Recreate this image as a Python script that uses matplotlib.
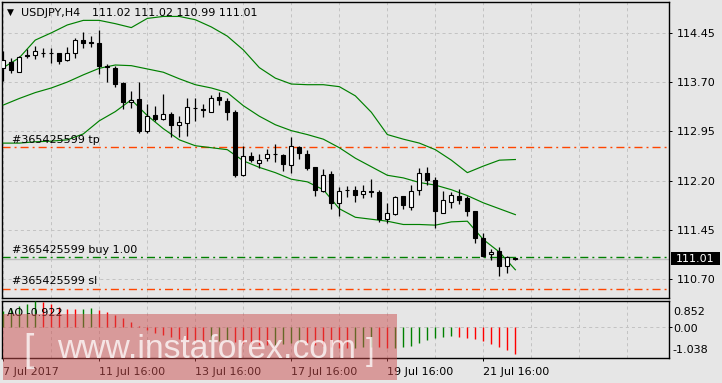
import matplotlib
matplotlib.use('Agg')
import matplotlib.pyplot as plt
from matplotlib.patches import Rectangle
import numpy as np

plt.rcParams['lines.scale_dashes'] = False
plt.rcParams['font.family'] = ['DejaVu Sans']

# ---------------- data ----------------
symbol_title = "USDJPY,H4"
title_prices = "111.02 111.02 110.99 111.01"

opens = [113.91, 114.01, 113.86, 114.12, 114.11, 114.15, 114.15, 114.14, 114.03, 114.14,
         114.34, 114.31, 114.29, 113.95, 113.92, 113.69, 113.39, 113.44, 112.95, 113.20,
         113.14, 113.22, 113.05, 113.07, 113.31, 113.29, 113.25, 113.47, 113.41, 113.25,
         112.28, 112.58, 112.46, 112.54, 112.61, 112.59, 112.43, 112.71, 112.61, 112.40,
         112.04, 112.30, 111.85, 112.06, 112.06, 111.99, 112.03, 112.03, 111.61, 111.69,
         111.97, 111.80, 112.06, 112.31, 112.21, 111.71, 111.88, 111.97, 111.94, 111.74,
         111.33, 111.08, 111.13, 110.89, 111.02]
highs = [114.18, 114.06, 114.09, 114.20, 114.25, 114.22, 114.22, 114.15, 114.24, 114.37,
         114.46, 114.40, 114.49, 113.98, 113.95, 113.70, 113.57, 113.70, 113.37, 113.33,
         113.52, 113.24, 113.19, 113.46, 113.45, 113.37, 113.50, 113.55, 113.45, 113.28,
         112.73, 112.64, 112.60, 112.68, 112.76, 112.60, 112.86, 112.73, 112.67, 112.41,
         112.37, 112.35, 112.10, 112.11, 112.12, 112.13, 112.23, 112.06, 111.85, 111.96,
         111.97, 112.13, 112.39, 112.41, 112.25, 112.04, 112.03, 112.07, 111.97, 111.74,
         111.40, 111.16, 111.19, 111.05, 111.02]
lows = [113.72, 113.84, 113.85, 114.07, 114.05, 114.08, 113.99, 113.98, 114.02, 114.06,
        114.22, 114.23, 113.82, 113.70, 113.63, 113.29, 113.31, 112.92, 112.93, 113.11,
        113.12, 112.87, 112.87, 112.88, 113.11, 113.17, 113.24, 113.35, 113.12, 112.25,
        112.27, 112.48, 112.39, 112.50, 112.48, 112.34, 112.31, 112.53, 112.36, 111.97,
        112.02, 111.76, 111.66, 111.95, 111.88, 111.94, 111.95, 111.57, 111.55, 111.68,
        111.77, 111.75, 111.98, 112.13, 111.47, 111.70, 111.78, 111.84, 111.66, 111.25,
        111.04, 110.99, 110.75, 110.79, 110.99]
closes = [114.03, 113.89, 114.08, 114.10, 114.17, 114.14, 114.14, 114.02, 114.15, 114.34,
          114.30, 114.30, 113.94, 113.93, 113.67, 113.39, 113.43, 112.96, 113.18, 113.14,
          113.21, 113.04, 113.09, 113.32, 113.30, 113.27, 113.45, 113.42, 113.25, 112.29,
          112.57, 112.52, 112.52, 112.60, 112.60, 112.45, 112.73, 112.62, 112.39, 112.05,
          112.28, 111.85, 112.04, 112.05, 111.98, 112.04, 112.03, 111.61, 111.70, 111.95,
          111.82, 112.04, 112.32, 112.21, 111.73, 111.90, 111.98, 111.90, 111.73, 111.32,
          111.05, 111.11, 110.90, 111.04, 111.01]

# Bollinger bands read every second bar
band_bars = list(range(0, 65, 2))
bb_upper = [113.92, 114.07, 114.34, 114.45, 114.57, 114.64, 114.64, 114.59, 114.53, 114.67,
            114.70, 114.70, 114.65, 114.54, 114.40, 114.19, 113.92, 113.76, 113.67, 113.66,
            113.66, 113.63, 113.49, 113.24, 112.90, 112.83, 112.77, 112.67, 112.51, 112.32,
            112.42, 112.51, 112.52]
bb_middle = [113.35, 113.45, 113.54, 113.61, 113.70, 113.81, 113.91, 113.96, 113.95, 113.90,
             113.85, 113.75, 113.66, 113.61, 113.54, 113.34, 113.18, 113.05, 112.96, 112.90,
             112.83, 112.70, 112.54, 112.41, 112.28, 112.24, 112.17, 112.13, 112.06, 111.97,
             111.86, 111.77, 111.68]
bb_lower = [112.77, 112.77, 112.79, 112.80, 112.82, 112.91, 113.11, 113.25, 113.43, 113.19,
            112.99, 112.82, 112.73, 112.70, 112.67, 112.50, 112.40, 112.32, 112.22, 112.18,
            112.06, 111.77, 111.64, 111.61, 111.58, 111.53, 111.53, 111.52, 111.57, 111.58,
            111.30, 111.11, 110.84]

# Awesome oscillator
ao_prev = 0.45
ao_values = [0.52, 0.62, 0.68, 0.74, 0.85, 0.82, 0.74, 0.66, 0.60, 0.58,
             0.60, 0.62, 0.55, 0.50, 0.40, 0.28, 0.15, 0.03, -0.10, -0.20,
             -0.28, -0.35, -0.42, -0.45, -0.48, -0.50, -0.49, -0.47, -0.44, -0.50,
             -0.55, -0.58, -0.60, -0.62, -0.60, -0.58, -0.55, -0.52, -0.54, -0.60,
             -0.64, -0.68, -0.70, -0.72, -0.70, -0.68, -0.66, -0.67, -0.70, -0.69,
             -0.68, -0.65, -0.54, -0.43, -0.37, -0.35, -0.32, -0.33, -0.36, -0.40,
             -0.47, -0.57, -0.68, -0.78, -0.92]
ao_label = "AO -0.922"
ao_max, ao_min = 0.852, -1.038

# Order lines
order_id = "#365425599"
tp_price = 112.71
buy_price = 111.03
sl_price = 110.55
bid_price = 111.01

price_ticks = [110.70, 111.45, 112.20, 112.95, 113.70, 114.45]
time_tick_bars = [0, 12, 24, 36, 48, 60]
time_tick_labels = ["7 Jul 2017", "11 Jul 16:00", "13 Jul 16:00", "17 Jul 16:00",
                    "19 Jul 16:00", "21 Jul 16:00"]

# ---------------- layout ----------------
W, H = 722, 383
BG = '#e6e6e6'
GRID = '#c3c3c3'
GREEN = '#008000'
ORANGE = '#ff4500'
px = 0.72  # one pixel in points

fig = plt.figure(figsize=(W / 100, H / 100), dpi=100)
fig.patch.set_facecolor(BG)


def fx(v):
    return v / W


def fy(v):
    return 1 - v / H


L, R = 2, 669
ax = fig.add_axes([fx(L), fy(298), fx(R) - fx(L), fy(2) - fy(298)])
ao = fig.add_axes([fx(L), fy(358), fx(R) - fx(L), fy(301) - fy(358)])

xmin, xmax = -0.16, 83.2
for a in (ax, ao):
    a.set_facecolor(BG)
    a.set_xlim(xmin, xmax)
    for s in a.spines.values():
        s.set_color('black')
        s.set_linewidth(1.0)

grid_dash = (0, (2.2, 2.2))

# main panel
ax.set_ylim(110.41, 114.92)
ax.set_xticks(range(0, 84, 6))
ax.tick_params(axis='x', length=0, labelbottom=False)
ax.yaxis.tick_right()
ax.set_yticks(price_ticks)
ax.set_yticklabels([f"{v:.2f}" for v in price_ticks])
ax.tick_params(axis='y', length=3 * px, width=px, pad=3.5, labelsize=8, colors='black')
ax.grid(True, color=GRID, linestyle=grid_dash, linewidth=px)
ax.set_axisbelow(True)

# bid line and order lines
ax.axhline(bid_price, color='#c0c0c0', linewidth=1.0, zorder=1, snap=True)
dashdot = (0, (5.8, 2.9, 1.4, 2.9))
for price, col in ((tp_price, ORANGE), (buy_price, GREEN), (sl_price, ORANGE)):
    ax.axhline(price, color=col, linewidth=1.0, linestyle=dashdot, zorder=2, snap=True)

# bands
for band in (bb_upper, bb_middle, bb_lower):
    ax.plot(band_bars, band, color=GREEN, linewidth=0.85, zorder=3)

# candles
xs = np.arange(len(closes))
ax.vlines(xs, lows, highs, color='black', linewidth=0.9, zorder=4, snap=True)
bw = 0.5
for i in xs:
    o, c = opens[i], closes[i]
    lo = min(o, c)
    h = max(abs(c - o), 0.003)
    fc = 'white' if c > o else 'black'
    ax.add_patch(Rectangle((i - bw / 2, lo), bw, h, facecolor=fc, edgecolor='black',
                           linewidth=0.8, zorder=5))

# AO panel
ao.set_ylim(ao_min, ao_max)
cols = []
prev = ao_prev
for v in ao_values:
    cols.append(GREEN if v > prev else '#ff0000')
    prev = v
ao.vlines(xs, 0, ao_values, colors=cols, linewidth=1.0, zorder=3, snap=True)
ao.set_xticks(time_tick_bars)
ao.set_xticklabels(time_tick_labels, ha='left')
ao.set_xticks(range(0, 84, 6), minor=True)
ao.tick_params(axis='x', which='major', length=3 * px, width=px, pad=4, labelsize=8)
ao.tick_params(axis='x', which='minor', length=0)
ao.yaxis.tick_right()
ao.set_yticks([0])
ao.tick_params(axis='y', length=3 * px, width=px, labelright=False)
ao.grid(True, which='both', color=GRID, linestyle=grid_dash, linewidth=px)
ao.set_axisbelow(True)

fig.text(fx(673), fy(312), f"{ao_max:.3f}", fontsize=8, va='center', ha='left')
fig.text(fx(673.5), fy(328.5), "0.00", fontsize=8, va='center', ha='left')
fig.text(fx(672.5), fy(350), f"{ao_min:.3f}", fontsize=8, va='center', ha='left')
fig.text(fx(7), fy(313), ao_label, fontsize=8, va='center', ha='left')

# title
fig.text(fx(7), fy(12.5), "\u25BC", fontsize=6.5, va='center', ha='left')
fig.text(fx(21), fy(12.5), symbol_title, fontsize=8, va='center', ha='left')
fig.text(fx(92), fy(12.5), title_prices, fontsize=8, va='center', ha='left')

# order labels
fig.text(fx(11.5), fy(140), f"{order_id} tp", fontsize=8, va='center', ha='left')
fig.text(fx(11.5), fy(250), f"{order_id} buy 1.00", fontsize=8, va='center', ha='left')
fig.text(fx(11.5), fy(281.5), f"{order_id} sl", fontsize=8, va='center', ha='left')

# current price box
fig.patches.append(Rectangle((fx(671), fy(265)), fx(720) - fx(671), 13 / H,
                             transform=fig.transFigure, facecolor='black',
                             edgecolor='none', zorder=5))
fig.text(fx(695.5), fy(258.5), f"{closes[-1]:.2f}", fontsize=8, color='white',
         va='center', ha='center', zorder=6)

# watermark
fig.patches.append(Rectangle((fx(3), fy(380)), fx(397) - fx(3), 66 / H,
                             transform=fig.transFigure, facecolor=(0.80, 0.31, 0.31),
                             edgecolor='none', alpha=0.5, zorder=10))
wm = dict(color='white', alpha=0.75, family='Liberation Sans', va='baseline',
          ha='left', zorder=11)
fig.text(fx(23), fy(361), "[", fontsize=27, **wm)
fig.text(fx(57), fy(358.5), "www.instaforex.com", fontsize=24.2, **wm)
fig.text(fx(366), fy(360), "]", fontsize=22, **wm)

fig.savefig('out.png', dpi=100, facecolor=BG)
